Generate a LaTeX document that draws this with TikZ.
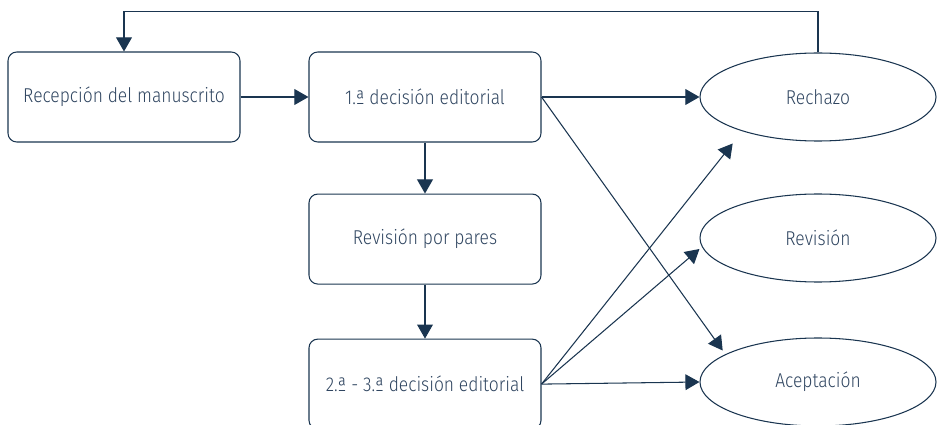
\documentclass[tikz,border=0pt]{standalone}
\usepackage{fontspec}
\setmainfont{Fira Sans}[UprightFont={* Light}, FakeStretch=0.87]
\usepackage{tikz}
\usetikzlibrary{positioning,arrows.meta,calc,shapes.geometric}

\definecolor{linecol}{HTML}{1A3550}
\definecolor{textcol}{HTML}{2F4560}

\begin{document}
\begin{tikzpicture}[
    font=\fontsize{11.4}{13}\selectfont,
    text=textcol,
    box/.style={draw=linecol, rectangle, rounded corners=5pt, minimum width=4.64cm, minimum height=1.8cm, align=center, line width=0.6pt},
    result/.style={draw=linecol, ellipse, minimum width=4.72cm, minimum height=1.76cm, line width=0.6pt},
    edge/.style={-{Triangle[width=9pt,length=8pt]}, draw=linecol, line width=0.6pt}
]
\useasboundingbox (0,0) rectangle (18.78,8.48);
\node[box] (recep) at (2.48,6.54) {Recepción del manuscrito};
\node[box] (dec1) at (8.5,6.54) {1.ª decisión editorial};
\node[box, below=1.02cm of dec1] (pares) {Revisión por pares};
\node[box, below=1.08cm of pares] (dec2) {2.ª - 3.ª decisión editorial};
\node[result] (rechazo) at (16.36,6.54) {Rechazo};
\node[result] (revision) at (16.36,3.72) {Revisión};
\node[result] (acepta) at (16.36,0.84) {Aceptación};

\draw[edge] (recep) -- (dec1);
\draw[edge] (dec1) -- (pares);
\draw[edge] (pares) -- (dec2);
\draw[edge] (dec1.east) -- (rechazo.west);
\draw[edge] (dec1.east) -- ($(acepta.north west)+(-0.23,0)$);
\draw[edge] (dec2.east) -- ($(rechazo.south west)+(-0.03,-0.3)$);
\draw[edge] (dec2.east) -- ($(revision.west)+(0,-0.22)$);
\draw[edge] (dec2.east) -- (acepta.west);
\draw[edge] (rechazo.north) -- ++(0,0.82) -| (recep.north);
\end{tikzpicture}
\end{document}
